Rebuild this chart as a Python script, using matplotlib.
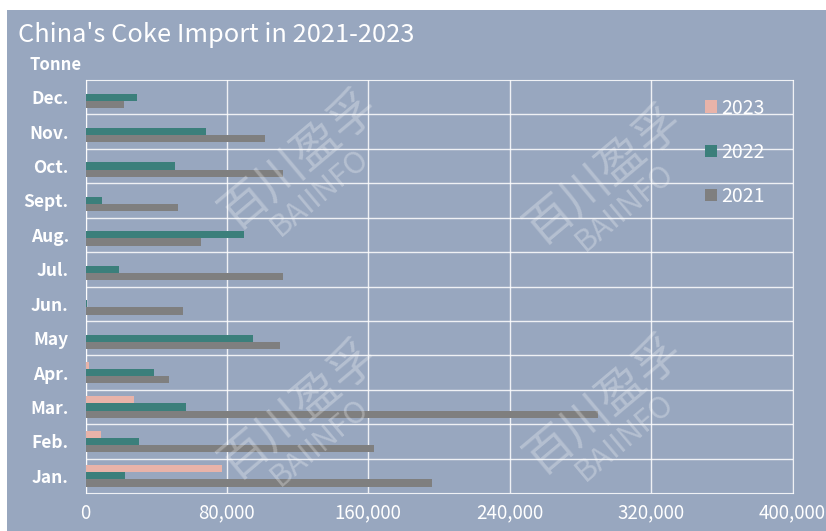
import numpy as np
import matplotlib.pyplot as plt
from matplotlib.patches import Rectangle

plt.rcParams['font.family'] = ['Noto Sans CJK SC', 'DejaVu Sans']

months = ['Jan.', 'Feb.', 'Mar.', 'Apr.', 'May', 'Jun.',
          'Jul.', 'Aug.', 'Sept.', 'Oct.', 'Nov.', 'Dec.']
imp_2023 = [77500, 9000, 27700, 1800, 300, 0, 0, 0, 0, 0, 0, 0]
imp_2022 = [22600, 30500, 56600, 39000, 94500, 800,
            18700, 89400, 9600, 50900, 68400, 28900]
imp_2021 = [195800, 163500, 290200, 47500, 110300, 55300,
            111800, 65600, 52600, 112000, 101800, 22000]
xticks = [0, 80000, 160000, 240000, 320000, 400000]

bg = '#98a7bf'
c23, c22, c21 = '#e8b3a9', '#3b7f7b', '#7f7f7f'

W, H = 826, 531
fig = plt.figure(figsize=(W / 100, H / 100), dpi=100, facecolor=bg)
# white strips on left and top like the screenshot
fig.patches.append(Rectangle((0, 0), 7 / W, 1, transform=fig.transFigure,
                             facecolor='white', edgecolor='none', zorder=0))
fig.patches.append(Rectangle((0, 1 - 10 / H), 1, 10 / H, transform=fig.transFigure,
                             facecolor='white', edgecolor='none', zorder=0))

ax = fig.add_axes([85.5 / W, 1 - 493 / H, 707 / W, 413 / H])
ax.set_facecolor('none')

y = np.arange(len(months))
h = 0.21
ax.barh(y + h, imp_2023, height=h, color=c23, label='2023', zorder=3)
ax.barh(y, imp_2022, height=h, color=c22, label='2022', zorder=3)
ax.barh(y - h, imp_2021, height=h, color=c21, label='2021', zorder=3)

ax.set_xlim(0, 400000)
ax.set_ylim(-0.5, len(months) - 0.5)
ax.set_xticks(xticks)
ax.set_xticklabels([f'{v:,}' for v in xticks])
ax.set_yticks(y)
ax.set_yticklabels(months)
ax.tick_params(length=0, colors='white')
ax.tick_params(axis='x', labelsize=13.5, pad=7)
ax.tick_params(axis='y', labelsize=12.5, pad=12)
for lab in ax.get_yticklabels():
    lab.set_fontweight('bold')

# grid: vertical at ticks, horizontal between months
ax.grid(axis='x', color='white', linewidth=1, alpha=0.85, zorder=1)
for b in np.arange(0.5, len(months) - 0.5, 1):
    ax.axhline(b, color='white', linewidth=1, alpha=0.85, zorder=1)
for s in ax.spines.values():
    s.set_color('white')
    s.set_alpha(0.85)

leg = ax.legend(loc='upper right', bbox_to_anchor=(0.985, 1.0), frameon=False,
                fontsize=14, labelcolor='white', handlelength=0.6, handleheight=0.6,
                handletextpad=0.2, labelspacing=1.2)

fig.text(18 / W, 1 - 35 / H, "China's Coke Import in 2021-2023", color='white',
         fontsize=18.3, fontweight='medium', va='center', ha='left')
fig.text(30 / W, 1 - 65 / H, 'Tonne', color='white', fontsize=12,
         fontweight='bold', va='center', ha='left')

# watermarks
for (wx, wy) in [(300, 160), (605, 175), (300, 410), (605, 405)]:
    fig.text(wx / W, 1 - wy / H, '百川盈孚', color='white', alpha=0.28, fontsize=34,
             rotation=40, ha='center', va='center')
    fig.text((wx + 20) / W, 1 - (wy + 32) / H, 'BAIINFO', color='white', alpha=0.28,
             fontsize=22, rotation=40, ha='center', va='center')

fig.savefig('out.png', dpi=100, facecolor=bg)
